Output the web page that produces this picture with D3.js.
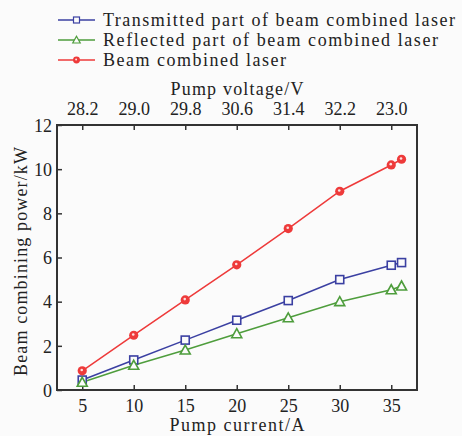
<!DOCTYPE html>
<html>
<head>
<meta charset="utf-8">
<script src="https://cdn.jsdelivr.net/npm/d3@7"></script>
<style>
  svg text { font-family: "Times New Roman", Tinos, "Liberation Serif", serif !important; }
</style>
</head>
<body style="margin:0">
<script>
var current = [5, 10, 15, 20, 25, 30, 35, 36];
var transmitted = [0.45, 1.36, 2.26, 3.16, 4.05, 5.0, 5.65, 5.77];
var reflected = [0.35, 1.12, 1.81, 2.55, 3.27, 4.0, 4.54, 4.71];
var combined = [0.87, 2.48, 4.08, 5.67, 7.31, 9.0, 10.19, 10.45];
var bottomTicks = [5, 10, 15, 20, 25, 30, 35];
var voltageLabels = ["28.2", "29.0", "29.8", "30.6", "31.4", "32.2", "23.0"];
var yTicks = [0, 2, 4, 6, 8, 10, 12];
var seriesNames = ["Transmitted part of beam combined laser",
                   "Reflected part of beam combined laser",
                   "Beam combined laser"];

var W = 462, H = 436;
var FONT = "'Times New Roman', Tinos, 'Liberation Serif', serif";
var margin = {top: 125, right: 45, bottom: 46, left: 57},
    width = W - margin.left - margin.right,
    height = H - margin.top - margin.bottom;

var x = d3.scaleLinear().domain([2.55, 37.5]).range([0, width]);
var y = d3.scaleLinear().domain([0, 12]).range([height, 0]);

var color = ["#3b40a2", "#4e9d3c", "#ee3a3a"];
var bg = "#fbfbfb";

var svg = d3.select("body").append("svg")
    .attr("width", W).attr("height", H)
    .attr("font-family", FONT);

svg.append("rect").attr("width", W).attr("height", H).attr("fill", bg);

function styleText(t) {
  return t.attr("font-family", FONT).style("font-family", FONT)
    .style("font-size", "18px").attr("fill", "#222");
}

var g = svg.append("g")
    .attr("transform", "translate(" + margin.left + "," + margin.top + ")");

// box
g.append("rect")
    .attr("width", width).attr("height", height)
    .attr("fill", "none").attr("stroke", "#333").attr("stroke-width", 2);

// axes with inward ticks
var xAxis = d3.axisBottom(x).tickValues(bottomTicks).tickSizeInner(-5).tickSizeOuter(0).tickPadding(9);
var gx = g.append("g").attr("transform", "translate(0," + height + ")").call(xAxis);
var topAxis = d3.axisTop(x).tickValues(bottomTicks).tickSizeInner(-5).tickSizeOuter(0).tickPadding(10)
    .tickFormat(function(d, i) { return voltageLabels[i]; });
var gt = g.append("g").call(topAxis);
var yAxis = d3.axisLeft(y).tickValues(yTicks).tickSizeInner(-5).tickSizeOuter(0).tickPadding(5);
var gy = g.append("g").call(yAxis);

[gx, gt, gy].forEach(function(a) {
  a.attr("font-family", FONT);
  a.select(".domain").remove();
  a.selectAll("line").attr("stroke", "#333").attr("stroke-width", 1.5);
  styleText(a.selectAll("text"));
});
gt.selectAll("text").attr("dy", "0");
gy.selectAll("text").attr("dy", "0.35em");

// axis titles
styleText(svg.append("text"))
    .attr("x", margin.left + width / 2).attr("y", 95)
    .attr("text-anchor", "middle")
    .attr("textLength", 133).attr("lengthAdjust", "spacing")
    .text("Pump voltage/V");
styleText(svg.append("text"))
    .attr("x", margin.left + width / 2).attr("y", 431)
    .attr("text-anchor", "middle")
    .attr("textLength", 135).attr("lengthAdjust", "spacing")
    .text("Pump current/A");
styleText(svg.append("text"))
    .attr("transform", "translate(27," + (margin.top + height / 2 + 4) + ") rotate(-90)")
    .attr("text-anchor", "middle")
    .attr("textLength", 229).attr("lengthAdjust", "spacing")
    .text("Beam combining power/kW");

// lines
var allSeries = [transmitted, reflected, combined];
var line = d3.line()
    .x(function(d, i) { return x(current[i]); })
    .y(function(d) { return y(d); });

allSeries.forEach(function(s, k) {
  g.append("path").datum(s)
    .attr("fill", "none").attr("stroke", color[k]).attr("stroke-width", 1.5)
    .attr("d", line);
});

function drawMarker(sel, k) {
  if (k === 0) {
    sel.append("rect").attr("x", -4).attr("y", -4).attr("width", 8).attr("height", 8)
      .attr("fill", bg).attr("stroke", color[0]).attr("stroke-width", 1.6);
  } else if (k === 1) {
    sel.append("path").attr("d", "M0,-5L5,4L-5,4Z")
      .attr("fill", bg).attr("stroke", color[1]).attr("stroke-width", 1.6);
  } else {
    sel.append("circle").attr("r", 4.6).attr("fill", color[2]);
    sel.append("circle").attr("r", 1.3).attr("cx", -0.5).attr("cy", -0.8).attr("fill", "#fde0e0");
  }
}

allSeries.forEach(function(s, k) {
  g.selectAll(".m" + k).data(s).enter().append("g")
    .attr("class", "m" + k)
    .attr("transform", function(d, i) { return "translate(" + x(current[i]) + "," + y(d) + ")"; })
    .each(function() { drawMarker(d3.select(this), k); });
});

// legend
var legendW = [352, 335, 183];
var leg = svg.selectAll(".leg").data(seriesNames).enter().append("g")
    .attr("class", "leg")
    .attr("transform", function(d, i) { return "translate(58," + (20 + i * 20) + ")"; });
leg.append("line").attr("x1", 0).attr("x2", 37)
    .attr("stroke", function(d, i) { return color[i]; }).attr("stroke-width", 1.5);
leg.each(function(d, i) {
  var m = d3.select(this).append("g").attr("transform", "translate(18.5,0) scale(0.75)");
  drawMarker(m, i);
});
styleText(leg.append("text"))
    .attr("x", 45).attr("y", 6)
    .attr("textLength", function(d, i) { return legendW[i]; }).attr("lengthAdjust", "spacing")
    .text(function(d) { return d; });
</script>
</body>
</html>
